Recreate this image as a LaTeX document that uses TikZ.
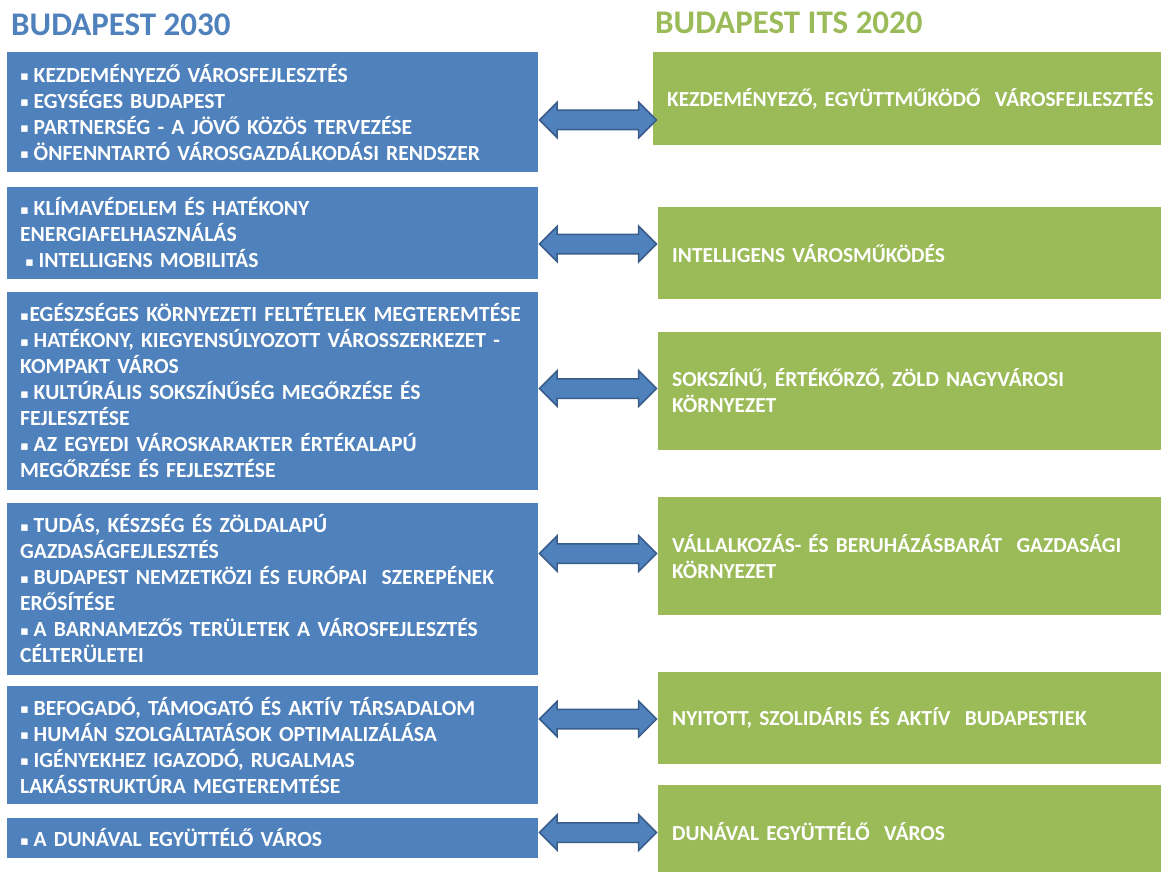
\documentclass[tikz,border=0pt]{standalone}
\usepackage{fontspec}
\setmainfont{Carlito}
\newfontfamily\symfont{DejaVu Sans}
\usetikzlibrary{positioning,shapes.arrows}
\definecolor{boxblue}{HTML}{4F81BD}
\definecolor{boxgreen}{HTML}{9BBB59}
\definecolor{arrowline}{HTML}{385D8A}
\newcommand{\bl}{\raisebox{1.5pt}{\symfont\fontsize{13}{13}\selectfont ▪}\kern-2.5pt}

\begin{document}
\begin{tikzpicture}[x=1pt,y=-1pt,
    head/.style={font=\bfseries\fontsize{33}{36}\selectfont, inner sep=0pt, anchor=base west},
    lbox/.style={fill=boxblue, text=white, font=\bfseries\fontsize{21.6}{26}\selectfont, text width=505pt, inner xsep=13pt, align=left, anchor=north west},
    rbox/.style={fill=boxgreen, text=white, font=\bfseries\fontsize{21.4}{26}\selectfont, text width=500pt, inner xsep=14pt, align=left, anchor=north west},
    link/.style={double arrow, fill=boxblue, draw=arrowline, line width=1.5pt, minimum width=34pt, minimum height=117pt, double arrow head extend=8pt, inner xsep=0pt, inner ysep=9pt, anchor=west}]
    \useasboundingbox (0,0) rectangle (1161,872);

    \node[head, text=boxblue] (b2030) at (11,36) {BUDAPEST 2030};
    \node[head, text=boxgreen] (its2020) at (655,34) {BUDAPEST ITS 2020};

    % Budapest 2030 goals
    \node[lbox, minimum height=120pt] (l1) at (7,52) {\bl{} KEZDEMÉNYEZŐ VÁROSFEJLESZTÉS\\
        \bl{} EGYSÉGES BUDAPEST\\
        \bl{} PARTNERSÉG - A JÖVŐ KÖZÖS TERVEZÉSE\\
        \bl{} ÖNFENNTARTÓ VÁROSGAZDÁLKODÁSI RENDSZER};
    \node[lbox, minimum height=91.5pt] (l2) at (7,187) {\bl{} KLÍMAVÉDELEM ÉS HATÉKONY\\
        ENERGIAFELHASZNÁLÁS\\
        \hspace*{5pt}\bl{} INTELLIGENS MOBILITÁS};
    \node[lbox, minimum height=197.5pt] (l3) at (7,292) {\bl\kern3pt EGÉSZSÉGES KÖRNYEZETI FELTÉTELEK MEGTEREMTÉSE\\
        \bl{} HATÉKONY, KIEGYENSÚLYOZOTT VÁROSSZERKEZET -\\
        KOMPAKT VÁROS\\
        \bl{} KULTÚRÁLIS SOKSZÍNŰSÉG MEGŐRZÉSE ÉS\\
        FEJLESZTÉSE\\
        \bl{} AZ EGYEDI VÁROSKARAKTER ÉRTÉKALAPÚ\\
        MEGŐRZÉSE ÉS FEJLESZTÉSE};
    \node[lbox, minimum height=171.5pt] (l4) at (7,503) {\bl{} TUDÁS, KÉSZSÉG ÉS ZÖLDALAPÚ\\
        GAZDASÁGFEJLESZTÉS\\
        \bl{} BUDAPEST NEMZETKÖZI ÉS EURÓPAI\ \ SZEREPÉNEK\\
        ERŐSÍTÉSE\\
        \bl{} A BARNAMEZŐS TERÜLETEK A VÁROSFEJLESZTÉS\\
        CÉLTERÜLETEI};
    \node[lbox, minimum height=118pt] (l5) at (7,686) {\bl{} BEFOGADÓ, TÁMOGATÓ ÉS AKTÍV TÁRSADALOM\\
        \bl{} HUMÁN SZOLGÁLTATÁSOK OPTIMALIZÁLÁSA\\
        \bl{} IGÉNYEKHEZ IGAZODÓ, RUGALMAS\\
        LAKÁSSTRUKTÚRA MEGTEREMTÉSE};
    \node[lbox, minimum height=39.5pt] (l6) at (7,818) {\bl{} A DUNÁVAL EGYÜTTÉLŐ VÁROS};

    % ITS 2020 goals
    \node[rbox, minimum height=93pt] (r1) at (653,52) {KEZDEMÉNYEZŐ, EGYÜTTMŰKÖDŐ\ \ VÁROSFEJLESZTÉS};
    \node[rbox, minimum height=92pt] (r2) at (658,207) {INTELLIGENS VÁROSMŰKÖDÉS};
    \node[rbox, minimum height=117.5pt] (r3) at (658,332) {SOKSZÍNŰ, ÉRTÉKŐRZŐ, ZÖLD NAGYVÁROSI\\KÖRNYEZET};
    \node[rbox, minimum height=118pt] (r4) at (658,497) {VÁLLALKOZÁS- ÉS BERUHÁZÁSBARÁT\ \ GAZDASÁGI\\KÖRNYEZET};
    \node[rbox, minimum height=92pt] (r5) at (658,672) {NYITOTT, SZOLIDÁRIS ÉS AKTÍV\ \ BUDAPESTIEK};
    \node[rbox, minimum height=92pt] (r6) at (658,785) {DUNÁVAL EGYÜTTÉLŐ\ \ VÁROS};

    % links
    \node[link] (a1) at (l1.east |- 0,120) {};
    \node[link] (a2) at (l2.east |- 0,244) {};
    \node[link] (a3) at (l3.east |- 0,388.5) {};
    \node[link] (a4) at (l4.east |- 0,553.5) {};
    \node[link] (a5) at (l5.east |- 0,719) {};
    \node[link] (a6) at (l6.east |- 0,832.5) {};
\end{tikzpicture}
\end{document}
